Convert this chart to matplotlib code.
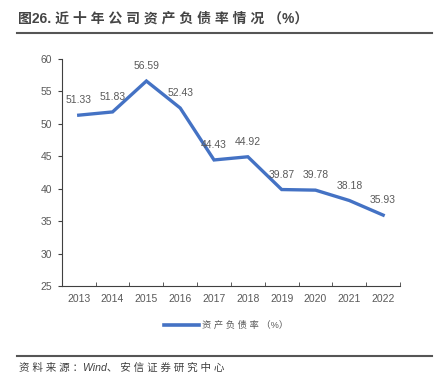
import numpy as np
import matplotlib
matplotlib.use('Agg')
import matplotlib.pyplot as plt
from matplotlib.lines import Line2D

plt.rcParams['font.family'] = ['Liberation Sans', 'Noto Sans CJK SC', 'DejaVu Sans']

years = ['2013', '2014', '2015', '2016', '2017', '2018', '2019', '2020', '2021', '2022']
debt_ratio = [51.33, 51.83, 56.59, 52.43, 44.43, 44.92, 39.87, 39.78, 38.18, 35.93]
y_ticks = [25, 30, 35, 40, 45, 50, 55, 60]

# the report sets its CJK text with letter spacing, spaces imitate that
title = '图26. 近 十 年 公 司 资 产 负 债 率 情 况 （%）'
series_name = '资 产 负 债 率 （%）'
source = '资 料 来 源 ：Wind、 安 信 证 券 研 究 中 心'

line_color = '#4472C4'
text_color = '#595959'

fig = plt.figure(figsize=(4.48, 3.85), dpi=100)
ax = fig.add_axes([0.138, 0.257, 0.755, 0.59])

x = np.arange(len(years))
ax.plot(x, debt_ratio, color=line_color, linewidth=2.4, solid_joinstyle='miter')
for xi, v in zip(x, debt_ratio):
    ax.annotate(f'{v:.2f}', (xi, v), xytext=(0, 7), textcoords='offset points',
                ha='center', va='bottom', fontsize=7.5, color=text_color)

ax.set_xlim(-0.5, len(years) - 0.5)
ax.set_ylim(25, 60)
ax.set_yticks(y_ticks)
ax.set_xticks(x)
ax.set_xticklabels(years)
ax.set_xticks(np.arange(len(years) + 1) - 0.5, minor=True)
ax.tick_params(axis='x', which='major', length=0, labelsize=7.5, labelcolor=text_color, pad=6)
ax.tick_params(axis='x', which='minor', direction='in', length=3, color='#404040')
ax.tick_params(axis='y', direction='out', length=3, labelsize=7.5, labelcolor=text_color, color='#404040', pad=4)
for s in ['top', 'right']:
    ax.spines[s].set_visible(False)
for s in ['left', 'bottom']:
    ax.spines[s].set_color('#404040')
    ax.spines[s].set_linewidth(0.8)

# title and rules
fig.text(0.04, 0.953, title, fontsize=10, fontweight='semibold', color='#454545',
         ha='left', va='center')
fig.add_artist(Line2D([0.038, 0.965], [0.914, 0.914], color='#555555', linewidth=1.5))

# legend
handle = Line2D([], [], color=line_color, linewidth=2.6)
fig.legend([handle], [series_name], loc='center', bbox_to_anchor=(0.505, 0.155),
           frameon=False, fontsize=6.7, handlelength=3.8, handletextpad=0.3,
           labelcolor=text_color)

fig.add_artist(Line2D([0.038, 0.965], [0.075, 0.075], color='#555555', linewidth=1.5))
fig.text(0.043, 0.045, source, fontsize=7.6, style='italic', color='#404040',
         ha='left', va='center')

fig.savefig('out.png', dpi=100)
